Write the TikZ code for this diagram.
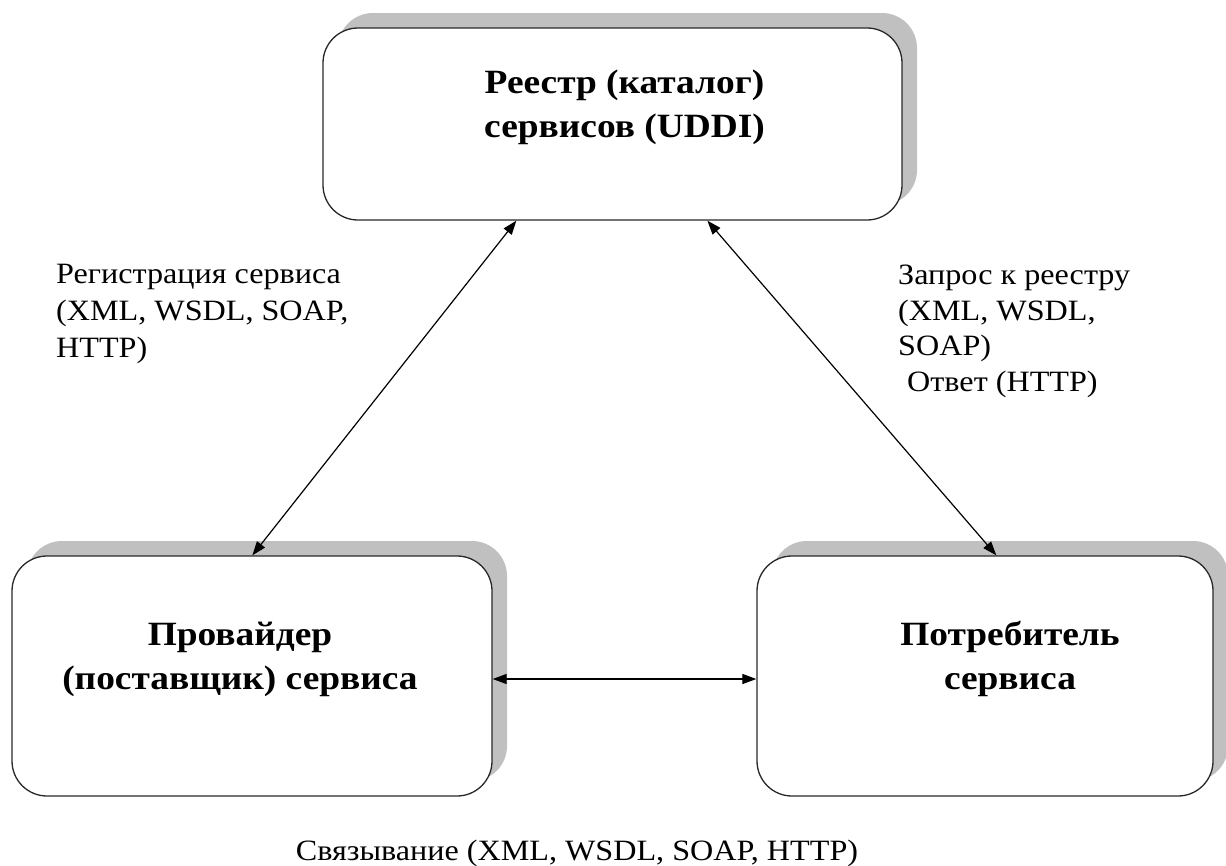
\documentclass[tikz,border=0pt]{standalone}
\usepackage{fontspec}
\setmainfont{Liberation Serif}
\newfontfamily\lblfont[FakeStretch=1.09]{Liberation Serif}
\newfontfamily\boxfont[FakeStretch=1.1]{Liberation Serif}
\usetikzlibrary{arrows.meta,shadows,calc}
\definecolor{shadowgray}{RGB}{192,192,192}
\definecolor{edgegray}{RGB}{40,40,40}
\tikzset{
  box/.style={draw=edgegray, line width=1.3pt, fill=white, rounded corners=35pt,
    inner sep=0pt,
    drop shadow={shadow xshift=15pt, shadow yshift=15pt, fill=shadowgray, opacity=1}},
  boxtext/.style={font=\boxfont\fontsize{34}{44}\selectfont\bfseries, align=center, inner sep=0pt},
  lbl/.style={font=\lblfont\fontsize{29.5}{37}\selectfont, align=left, inner sep=0pt},
  lblr/.style={font=\lblfont\fontsize{29.5}{35.5}\selectfont, align=left, inner sep=0pt},
  conn/.style={line width=1.2pt, {Triangle[length=14pt,width=10pt]}-{Triangle[length=14pt,width=10pt]}}
}
\begin{document}
\begin{tikzpicture}[x=1pt,y=-1pt]
\useasboundingbox (0,0) rectangle (1226,865);
\fill[white] (0,0) rectangle (1226,865);
% boxes
\node[box, minimum width=579pt, minimum height=192pt] (top) at (612.5,124) {};
\node[box, minimum width=480pt, minimum height=240pt] (left) at (252,676) {};
\node[box, minimum width=456pt, minimum height=240pt] (right) at (985,676) {};
% box texts
\node[boxtext] (toptext) at ([xshift=12pt,yshift=17pt]top.center) {Реестр (каталог)\\сервисов (UDDI)};
\node[boxtext] (lefttext) at ([xshift=-12pt,yshift=17pt]left.center) {Провайдер\\(поставщик) сервиса};
\node[boxtext] (righttext) at ([xshift=25pt,yshift=17pt]right.center) {Потребитель\\сервиса};
% connectors
\draw[conn] ([xshift=241pt]left.north west) -- ([xshift=194pt]top.south west);
\draw[conn] ([xshift=385pt]top.south west) -- ([xshift=240pt]right.north west);
\draw[conn] ([yshift=-3pt]left.east) -- ([yshift=-3pt]right.west);
% labels
\node[lbl, anchor=north west] (reglbl) at (56,264) {Регистрация сервиса\\(XML, WSDL, SOAP,\\HTTP)};
\node[lblr, anchor=north west] (reqlbl) at (898,265) {Запрос к реестру\\(XML, WSDL,\\SOAP)\\\hspace*{9pt}Ответ (HTTP)};
\node[lbl, anchor=base] (bindlbl) at (577,860) {Связывание (XML, WSDL, SOAP, HTTP)};
\end{tikzpicture}
\end{document}
